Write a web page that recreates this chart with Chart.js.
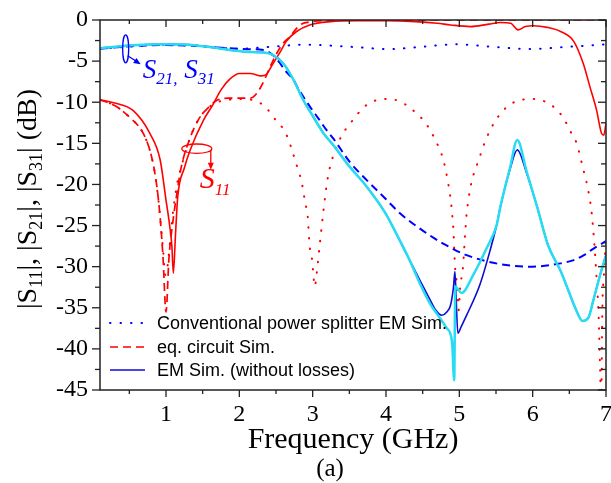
<!DOCTYPE html>
<html>
<head>
<meta charset="utf-8">
<title>S-parameters</title>
<script src="https://cdn.jsdelivr.net/npm/chart.js@4.4.1/dist/chart.umd.min.js"></script>
<style>
    html, body { margin: 0; padding: 0; background: #fff; }
    #wrap { width: 611px; height: 483px; }
</style>
</head>
<body>
<div id="wrap"><canvas id="chart" width="611" height="483"></canvas></div>
<script>
// ---- data (frequency in GHz, magnitude in dB) ----
const xTicks = [1, 2, 3, 4, 5, 6, 7];
const yTicks = [0, -5, -10, -15, -20, -25, -30, -35, -40, -45];
const xMinor = [0.5, 1.5, 2.5, 3.5, 4.5, 5.5, 6.5];
const yMinor = [-2.5, -7.5, -12.5, -17.5, -22.5, -27.5, -32.5, -37.5, -42.5];

// EM Sim. (without losses)
const emS11Freq = [0.1, 0.3, 0.55, 0.78, 0.92, 1.0, 1.05, 1.08, 1.1, 1.13, 1.16, 1.25, 1.33, 1.51, 1.64, 1.75, 1.87, 2.0, 2.15, 2.3, 2.37, 2.46, 2.56, 2.64, 2.78, 2.96, 3.24, 3.6, 4.0, 4.4, 4.7, 4.88, 5.15, 5.4, 5.56, 5.7, 5.8, 5.9, 6.01, 6.2, 6.38, 6.56, 6.69, 6.78, 6.87, 6.94, 6.97, 7.0];
const emS11 = [-9.7, -10.1, -11.0, -13.8, -17, -21.9, -25, -27.5, -30.8, -26, -21.5, -18, -15.8, -12.2, -10.3, -8.5, -7.2, -6.5, -6.5, -6.8, -6.6, -5.3, -3.85, -2.6, -1.4, -0.6, -0.2, -0.1, -0.1, -0.2, -0.4, -0.6, -0.8, -0.5, -0.3, -0.4, -1.2, -0.8, -0.7, -0.9, -1.4, -2.6, -5.3, -8.1, -10.9, -13.8, -14, -12.6];

const emS21Freq = [0.1, 0.5, 1.0, 1.3, 1.6, 1.92, 2.15, 2.33, 2.46, 2.6, 2.74, 2.87, 3.01, 3.15, 3.28, 3.5, 3.74, 4.0, 4.13, 4.3, 4.47, 4.6, 4.68, 4.76, 4.83, 4.88, 4.92, 4.94, 4.955, 4.98, 5.03, 5.1, 5.28, 5.42, 5.51, 5.56, 5.69, 5.79, 5.92, 6.06, 6.21, 6.38, 6.47, 6.58, 6.68, 6.76, 6.83, 6.92, 7.0];
const emS21 = [-3.45, -3.1, -2.95, -3.0, -3.3, -3.7, -3.9, -3.95, -4.26, -5.3, -7.3, -9.7, -11.8, -13.8, -15.2, -17.8, -20.3, -23.6, -25.8, -28.8, -31.8, -34, -35.3, -35.9, -35.5, -34.7, -32.5, -30.6, -33.5, -38.1, -37.2, -35.9, -32.2, -28, -24.9, -22.7, -18.2, -15.8, -18.7, -22.7, -27.4, -30.5, -32.5, -35, -36.6, -36.2, -34, -31, -28.6];

const emS31Freq = [0.1, 0.5, 1.0, 1.3, 1.6, 1.92, 2.15, 2.33, 2.46, 2.6, 2.74, 2.87, 3.01, 3.15, 3.28, 3.5, 3.74, 4.0, 4.13, 4.3, 4.47, 4.6, 4.74, 4.83, 4.9, 4.93, 4.945, 4.97, 5.03, 5.19, 5.37, 5.51, 5.56, 5.69, 5.79, 5.92, 6.06, 6.21, 6.38, 6.47, 6.58, 6.68, 6.76, 6.83, 6.92, 7.0];
const emS31 = [-3.45, -3.1, -2.95, -3.0, -3.3, -3.7, -3.9, -3.95, -4.26, -5.3, -7.3, -9.7, -11.8, -13.8, -15.2, -17.8, -20.3, -23.6, -25.8, -28.8, -32.2, -34.5, -36.3, -37.5, -39.1, -43.8, -32.4, -32.6, -33.2, -31, -27.8, -24.9, -22.7, -18, -14.6, -18.5, -22.7, -27.4, -30.5, -32.5, -35, -36.6, -36.2, -34, -31, -28.6];

// eq. circuit Sim.
const eqS11Freq = [0.1, 0.3, 0.5, 0.69, 0.8, 0.87, 0.92, 0.96, 1.0, 1.04, 1.08, 1.15, 1.21, 1.33, 1.45, 1.56, 1.69, 1.85, 2.0, 2.15, 2.24, 2.33, 2.42, 2.51, 2.6, 2.67, 2.83, 3.0, 3.3, 3.6, 7.0];
const eqS11 = [-9.7, -10.4, -11.8, -13.8, -16.5, -19.9, -24, -29, -35.5, -29, -25.5, -21, -17.8, -14.3, -12, -10.8, -9.8, -9.5, -9.5, -9.5, -8.9, -7.5, -5.7, -4.05, -2.8, -2.2, -0.6, -0.2, -0.05, 0, 0];

const eqS21Freq = [0.1, 0.5, 1.0, 1.5, 1.87, 2.1, 2.33, 2.46, 2.55, 2.62, 2.74, 2.8, 2.96, 3.08, 3.19, 3.28, 3.5, 3.74, 4.0, 4.19, 4.45, 4.65, 4.8, 5.1, 5.56, 6.0, 6.38, 6.56, 6.7, 6.83, 7.0];
const eqS21 = [-3.5, -3.2, -3.05, -3.2, -3.45, -3.55, -3.65, -4.3, -5.2, -6.1, -7.3, -8.3, -10.5, -12, -13.4, -14.4, -17.2, -19.5, -21.8, -23.5, -25.3, -26.5, -27.3, -28.6, -29.7, -30.0, -29.6, -29.2, -28.6, -27.8, -26.9];

// Conventional power splitter EM Sim.
const convS11Freq = [0.1, 0.3, 0.5, 0.69, 0.8, 0.87, 0.92, 0.96, 0.99, 1.02, 1.06, 1.1, 1.15, 1.21, 1.33, 1.45, 1.56, 1.7, 1.85, 2.0, 2.24, 2.37, 2.46, 2.58, 2.66, 2.71, 2.8, 2.85, 2.9, 2.93, 2.96, 2.99, 3.03, 3.05, 3.1, 3.15, 3.2, 3.28, 3.4, 3.51, 3.74, 4.03, 4.33, 4.65, 4.83, 4.92, 4.94, 4.97, 4.99, 5.01, 5.05, 5.08, 5.1, 5.28, 5.56, 6.0, 6.33, 6.45, 6.53, 6.6, 6.68, 6.75, 6.8, 6.84, 6.87, 6.9, 6.92, 6.935, 6.95, 6.97, 7.0];
const convS11 = [-9.7, -10.4, -11.8, -13.8, -16.5, -19.9, -24, -28, -31, -30, -26.5, -23, -20, -17.8, -14.3, -12, -10.8, -10, -9.7, -9.6, -9.9, -10.7, -11.8, -13, -14.3, -15.6, -18.2, -19.7, -22.3, -23.7, -27.6, -29, -32.4, -31.2, -27, -23, -19.5, -16.5, -14, -12.6, -10.3, -9.6, -10.7, -14.2, -19, -25.7, -29.8, -32.4, -35.3, -32.6, -30, -25.9, -23.5, -16.6, -11.4, -9.6, -10.9, -12.4, -13.8, -15, -17.8, -20.4, -23.1, -27.1, -31.2, -36.1, -42.6, -47, -35.3, -31.2, -26.6];

const convS21Freq = [0.1, 0.5, 1.0, 1.5, 2.0, 2.5, 2.9, 3.5, 4.05, 4.5, 4.95, 5.45, 5.95, 6.5, 7.0];
const convS21 = [-3.5, -3.25, -3.0, -3.2, -3.5, -3.2, -3.0, -3.25, -3.53, -3.25, -2.96, -3.25, -3.53, -3.25, -2.96];

const legendLabels = ["Conventional power splitter EM Sim.", "eq. circuit Sim.", "EM Sim. (without losses)"];

// where the two "S" markers sit, in data units
const s21Marker = {f: 0.45, db: -3.5};
const s11Marker = {f: 1.42, db: -15.65};

const RED = '#ff0000';
const BLUE = '#0000ff';
const DARKBLUE = '#0c0cd2';
const CYAN = '#26dcf2';
const DOTS = [0.5, 10];
const DASHES = [8, 5];
const SERIF = '"Liberation Serif", "Times New Roman", serif';

function pts(fs, vs) {
    return fs.map((f, i) => ({x: f, y: vs[i]}));
}

function line(ctx, x1, y1, x2, y2) {
    ctx.beginPath();
    ctx.moveTo(x1, y1);
    ctx.lineTo(x2, y2);
    ctx.stroke();
}

function arrowHead(ctx, x1, y1, x2, y2, len, wid) {
    const a = Math.atan2(y2 - y1, x2 - x1);
    ctx.beginPath();
    ctx.moveTo(x2, y2);
    ctx.lineTo(x2 - len * Math.cos(a) + wid * Math.sin(a), y2 - len * Math.sin(a) - wid * Math.cos(a));
    ctx.lineTo(x2 - len * Math.cos(a) - wid * Math.sin(a), y2 - len * Math.sin(a) + wid * Math.cos(a));
    ctx.closePath();
    ctx.fill();
}

// draws a run of [text, isSubscript] pieces, returns total width
function richText(ctx, parts, x, y, mainFont, subFont, subDrop, measureOnly) {
    let cx = x;
    parts.forEach(p => {
        ctx.font = p[1] ? subFont : mainFont;
        if (!measureOnly) ctx.fillText(p[0], cx, p[1] ? y + subDrop : y);
        cx += ctx.measureText(p[0]).width;
    });
    return cx - x;
}

const decorations = {
    id: 'decorations',
    afterDraw(chart) {
        const ctx = chart.ctx;
        const a = chart.chartArea;
        const xs = chart.scales.x;
        const ys = chart.scales.y;
        ctx.save();

        // frame with ticks: outward on bottom/left, inward on top/right
        ctx.strokeStyle = '#222';
        ctx.lineWidth = 1.5;
        ctx.strokeRect(a.left, a.top, a.right - a.left, a.bottom - a.top);
        ctx.lineWidth = 1.3;
        const xMarks = xTicks.map(v => [v, 7]).concat(xMinor.map(v => [v, 4]));
        xMarks.forEach(m => {
            const p = xs.getPixelForValue(m[0]);
            line(ctx, p, a.bottom, p, a.bottom + m[1]);
            line(ctx, p, a.top, p, a.top + m[1]);
        });
        const yMarks = yTicks.map(v => [v, 8]).concat(yMinor.map(v => [v, 5]));
        yMarks.forEach(m => {
            const p = ys.getPixelForValue(m[0]);
            line(ctx, a.left - m[1], p, a.left, p);
            line(ctx, a.right - m[1], p, a.right, p);
        });

        // axis titles
        ctx.fillStyle = '#000';
        ctx.textBaseline = 'alphabetic';
        ctx.textAlign = 'center';
        ctx.font = '30px ' + SERIF;
        ctx.fillText('Frequency (GHz)', 353, 448);
        ctx.font = '25px ' + SERIF;
        ctx.fillText('(a)', 330, 476);

        ctx.textAlign = 'left';
        const yParts = [['|S', 0], ['11', 1], ['|, |S', 0], ['21', 1], ['|, |S', 0], ['31', 1], ['| (dB)', 0]];
        const mainF = '28px ' + SERIF;
        const subF = '18px ' + SERIF;
        const w = richText(ctx, yParts, 0, 0, mainF, subF, 6, true);
        ctx.save();
        ctx.translate(36, 199);
        ctx.rotate(-Math.PI / 2);
        richText(ctx, yParts, -w / 2, 0, mainF, subF, 6, false);
        ctx.restore();

        // legend (inside the plot, lower left)
        const rows = [
            {color: BLUE, dash: DOTS, width: 2, cap: 'round'},
            {color: RED, dash: DASHES, width: 1.6, cap: 'butt'},
            {color: DARKBLUE, dash: [], width: 1.6, cap: 'butt'}
        ];
        const rowY = [323, 347, 370];
        rows.forEach((r, i) => {
            ctx.strokeStyle = r.color;
            ctx.lineWidth = r.width;
            ctx.lineCap = r.cap;
            ctx.setLineDash(r.dash);
            line(ctx, 110, rowY[i], 145, rowY[i]);
            ctx.setLineDash([]);
            ctx.lineCap = 'butt';
            ctx.fillStyle = '#000';
            ctx.font = '18px "Liberation Sans", Arial, sans-serif';
            ctx.textBaseline = 'middle';
            ctx.fillText(legendLabels[i], 157, rowY[i] + 1);
        });

        // S21, S31 marker
        ctx.textBaseline = 'alphabetic';
        let cx = xs.getPixelForValue(s21Marker.f);
        let cy = ys.getPixelForValue(s21Marker.db);
        ctx.strokeStyle = BLUE;
        ctx.fillStyle = BLUE;
        ctx.lineWidth = 1.3;
        ctx.beginPath();
        ctx.ellipse(cx, cy, 3, 14, 0, 0, Math.PI * 2);
        ctx.stroke();
        line(ctx, cx + 2, cy + 7, cx + 13, cy + 14);
        arrowHead(ctx, cx + 2, cy + 7, cx + 15, cy + 15.5, 7, 3);
        richText(ctx, [['S', 0], ['21,', 1], [' S', 0], ['31', 1]], cx + 17, cy + 29,
            'italic 27px ' + SERIF, 'italic 17px ' + SERIF, 6, false);

        // S11 marker
        cx = xs.getPixelForValue(s11Marker.f);
        cy = ys.getPixelForValue(s11Marker.db);
        ctx.strokeStyle = RED;
        ctx.fillStyle = RED;
        ctx.beginPath();
        ctx.ellipse(cx, cy, 15, 4.7, 0, 0, Math.PI * 2);
        ctx.stroke();
        line(ctx, cx + 14, cy + 1, cx + 14, cy + 15);
        arrowHead(ctx, cx + 14, cy + 1, cx + 14, cy + 21, 7, 3);
        richText(ctx, [['S', 0], ['11', 1]], cx + 3, cy + 39,
            'italic 30px ' + SERIF, 'italic 17px ' + SERIF, 7, false);

        ctx.restore();
    }
};

function series(fs, vs, color, width, dash, cap) {
    return {
        data: pts(fs, vs),
        borderColor: color,
        borderWidth: width,
        borderDash: dash,
        borderCapStyle: cap || 'butt',
        pointRadius: 0,
        fill: false,
        tension: 0.4,
        cubicInterpolationMode: 'monotone'
    };
}

new Chart(document.getElementById('chart'), {
    type: 'line',
    data: {
        datasets: [
            series(emS31Freq, emS31, CYAN, 2.5, []),
            series(emS21Freq, emS21, DARKBLUE, 1.6, []),
            series(emS11Freq, emS11, RED, 1.6, []),
            series(eqS11Freq, eqS11, RED, 1.7, DASHES),
            series(eqS21Freq, eqS21, BLUE, 2, DASHES),
            series(convS11Freq, convS11, RED, 2, DOTS, 'round'),
            series(convS21Freq, convS21, BLUE, 2, DOTS, 'round')
        ]
    },
    options: {
        responsive: false,
        animation: false,
        events: [],
        layout: {padding: {left: 0, right: 5, top: 20, bottom: 0}},
        plugins: {legend: {display: false}, tooltip: {enabled: false}},
        scales: {
            x: {
                type: 'linear',
                min: 0.1,
                max: 7,
                grid: {display: false, drawTicks: false},
                border: {display: false},
                afterBuildTicks: s => { s.ticks = xTicks.map(v => ({value: v})); },
                afterFit: s => { s.height = 93; s.paddingLeft = 0; s.paddingRight = 0; },
                ticks: {
                    autoSkip: false,
                    maxRotation: 0,
                    padding: 10,
                    color: '#000',
                    font: {family: SERIF, size: 24},
                    callback: v => String(v)
                }
            },
            y: {
                type: 'linear',
                min: -45,
                max: 0,
                grid: {display: false, drawTicks: false},
                border: {display: false},
                afterBuildTicks: s => { s.ticks = yTicks.map(v => ({value: v})); },
                afterFit: s => { s.width = 100; s.paddingTop = 0; s.paddingBottom = 0; },
                ticks: {
                    autoSkip: false,
                    padding: 12,
                    color: '#000',
                    font: {family: SERIF, size: 24},
                    callback: v => String(v)
                }
            }
        }
    },
    plugins: [decorations]
});
</script>
</body>
</html>
